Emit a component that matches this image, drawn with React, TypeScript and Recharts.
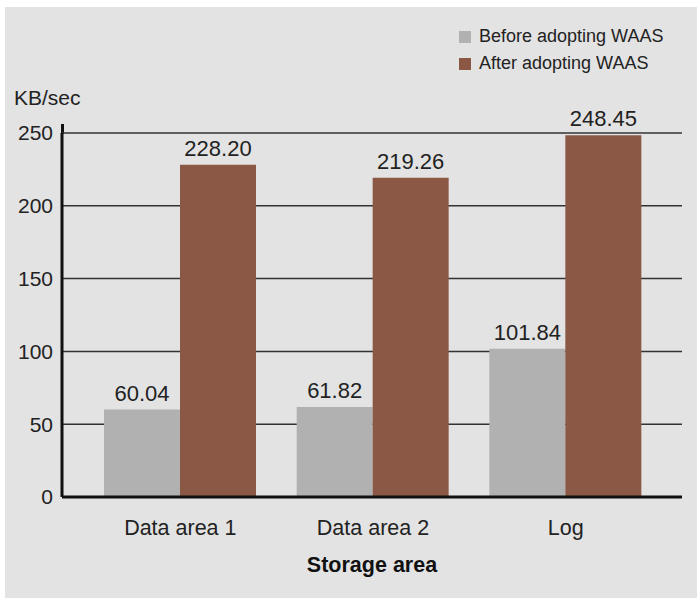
import { Bar, BarChart, CartesianGrid, LabelList, XAxis, YAxis } from "recharts";

const categories = ["Data area 1", "Data area 2", "Log"];
const before = [60.04, 61.82, 101.84];
const after = [228.2, 219.26, 248.45];
const yTicks = [0, 50, 100, 150, 200, 250];

const data = categories.map((name, i) => ({ name, before: before[i], after: after[i] }));

const FONT = "'Liberation Sans', Arial, sans-serif";
const GRAY = "#b0b1b0";
const BROWN = "#8b5846";
const TEXT = "#222";

function LegendBox() {
  const items = [
    { label: "Before adopting WAAS", color: GRAY },
    { label: "After adopting WAAS", color: BROWN },
  ];
  return (
    <div style={{ fontFamily: FONT, fontSize: 18, color: TEXT }}>
      {items.map((it) => (
        <div key={it.label} style={{ display: "flex", alignItems: "center", height: 27 }}>
          <div style={{ width: 12, height: 12, background: it.color, marginRight: 8 }} />
          <span>{it.label}</span>
        </div>
      ))}
    </div>
  );
}

export default function App() {
  return (
    <div style={{ position: "absolute", left: 0, top: 0, width: 697, height: 600, background: "#fff" }}>
      <div style={{ position: "absolute", left: 5, top: 7, width: 692, height: 591, background: "#e3e3e3" }} />
      <div style={{ position: "absolute", left: 14, top: 86, fontFamily: FONT, fontSize: 21, color: TEXT }}>KB/sec</div>
      <div style={{ position: "absolute", left: 459, top: 23 }}>
        <LegendBox />
      </div>
      {/* axis line pokes a little above the 250 gridline */}
      <div style={{ position: "absolute", left: 60.5, top: 124, width: 3, height: 10, background: "#111" }} />
      <div style={{ position: "absolute", left: 0, top: 0 }}>
        <BarChart
          width={697}
          height={600}
          data={data}
          margin={{ top: 133, right: 15, bottom: 63, left: 0 }}
          barGap={0}
          barSize={76}
        >
          <CartesianGrid vertical={false} stroke="#333" strokeWidth={1.5} />
          <XAxis
            dataKey="name"
            height={40}
            padding={{ left: 22, right: 20 }}
            axisLine={{ stroke: "#111", strokeWidth: 3 }}
            tickLine={false}
            tickSize={0}
            tickMargin={23}
            tick={{ fill: TEXT, fontSize: 21.5, fontFamily: FONT }}
            label={{ value: "Storage area", position: "bottom", offset: 20, fill: "#111", fontSize: 21.5, fontWeight: "bold", fontFamily: FONT }}
          />
          <YAxis
            width={62}
            domain={[0, 250]}
            ticks={yTicks}
            interval={0}
            axisLine={{ stroke: "#111", strokeWidth: 3 }}
            tickLine={false}
            tickSize={0}
            tickMargin={9}
            tick={{ fill: TEXT, fontSize: 21, fontFamily: FONT }}
          />
          <Bar dataKey="before" fill={GRAY} isAnimationActive={false}>
            <LabelList dataKey="before" position="top" offset={9} fill={TEXT} fontSize={22} fontFamily={FONT} formatter={(v: number) => v.toFixed(2)} />
          </Bar>
          <Bar dataKey="after" fill={BROWN} isAnimationActive={false}>
            <LabelList dataKey="after" position="top" offset={9} fill={TEXT} fontSize={22} fontFamily={FONT} formatter={(v: number) => v.toFixed(2)} />
          </Bar>
        </BarChart>
      </div>
    </div>
  );
}
